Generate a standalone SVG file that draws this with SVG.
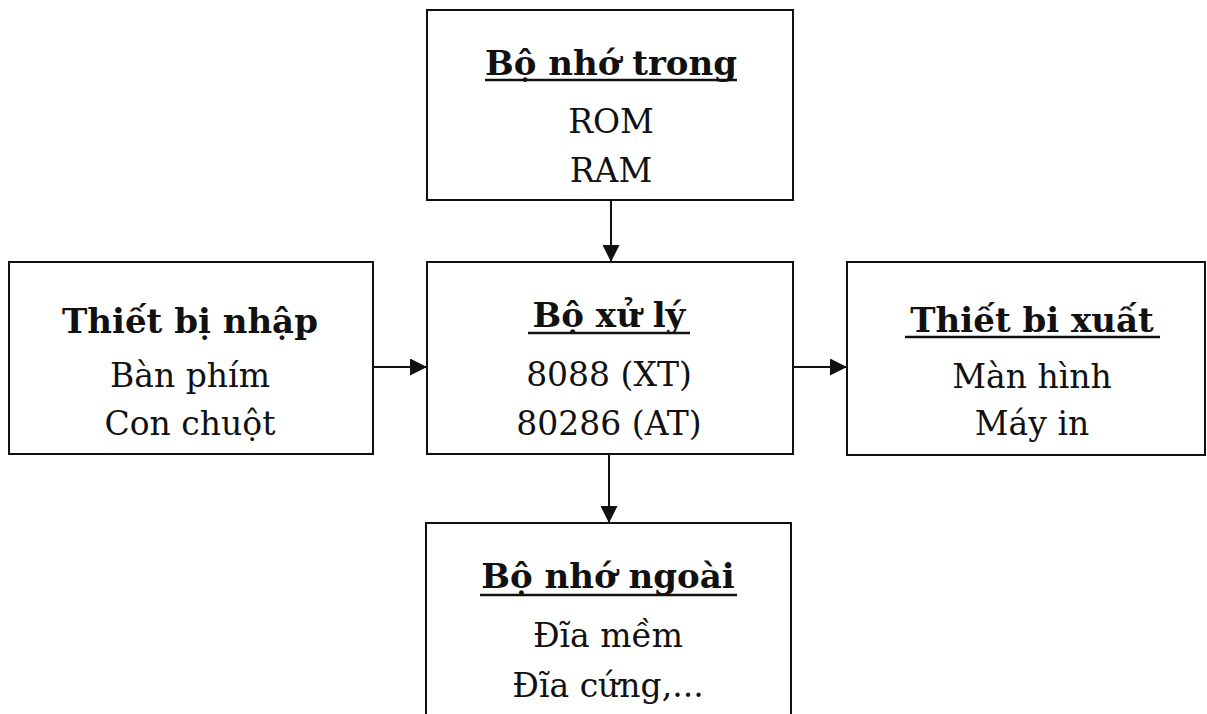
<svg xmlns="http://www.w3.org/2000/svg" width="1207" height="714" viewBox="0 0 1207 714">
<defs>
<marker id="ah" viewBox="0 0 10 10" refX="10" refY="5" markerWidth="18" markerHeight="17" markerUnits="userSpaceOnUse" orient="auto">
<path d="M0,0 L10,5 L0,10 z" fill="#111"/>
</marker>
<style>
.box{fill:#fff;stroke:#111;stroke-width:2}
.t{font-family:"DejaVu Serif","Liberation Serif",serif;font-size:33px;fill:#111;text-anchor:middle}
.h{font-weight:bold;font-size:34px}
.ul{stroke:#111;stroke-width:2.5}
.c{stroke:#111;stroke-width:2;fill:none;marker-end:url(#ah)}
</style>
</defs>
<rect width="1207" height="714" fill="#fff"/>
<g id="connectors">
<line class="c" x1="611" y1="200" x2="611" y2="262"/>
<line class="c" x1="373" y1="367" x2="427" y2="367"/>
<line class="c" x1="793" y1="367" x2="847" y2="367"/>
<line class="c" x1="609" y1="454" x2="609" y2="523"/>
</g>
<g id="bo-nho-trong">
<rect class="box" x="427" y="10" width="366" height="190"/>
<text class="t h" x="611" y="75">Bộ nhớ trong</text>
<line class="ul" x1="485" y1="80" x2="737" y2="80"/>
<text class="t" x="611" y="133">ROM</text>
<text class="t" x="611" y="182">RAM</text>
</g>
<g id="thiet-bi-nhap">
<rect class="box" x="9" y="262" width="364" height="192"/>
<text class="t h" x="190" y="333">Thiết bị nhập</text>
<text class="t" x="190" y="387">Bàn phím</text>
<text class="t" x="190" y="435">Con chuột</text>
</g>
<g id="bo-xu-ly">
<rect class="box" x="427" y="262" width="366" height="192"/>
<text class="t h" x="609" y="327">Bộ xử lý</text>
<line class="ul" x1="528" y1="333" x2="690" y2="333"/>
<text class="t" x="609" y="386">8088 (XT)</text>
<text class="t" x="609" y="435">80286 (AT)</text>
</g>
<g id="thiet-bi-xuat">
<rect class="box" x="847" y="262" width="358" height="193"/>
<text class="t h" x="1032" y="332">Thiết bi xuất</text>
<line class="ul" x1="905" y1="337" x2="1160" y2="337"/>
<text class="t" x="1032" y="388">Màn hình</text>
<text class="t" x="1032" y="435">Máy in</text>
</g>
<g id="bo-nho-ngoai">
<rect class="box" x="426" y="523" width="365" height="200"/>
<text class="t h" x="608" y="588">Bộ nhớ ngoài</text>
<line class="ul" x1="480" y1="595" x2="737" y2="595"/>
<text class="t" x="608" y="647">Đĩa mềm</text>
<text class="t" x="608" y="697">Đĩa cứng,...</text>
</g>
</svg>
